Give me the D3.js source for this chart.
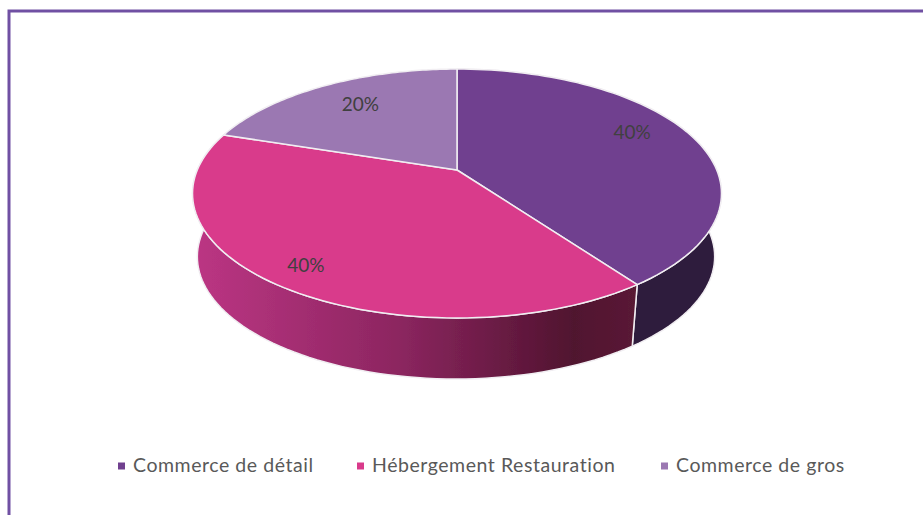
<!DOCTYPE html>
<html>
<head>
<meta charset="utf-8">
<script src="https://cdn.jsdelivr.net/npm/d3@7"></script>
<style>
html,body{margin:0;padding:0;background:#fff;}
svg{display:block;}
text{font-family:Lato,sans-serif;}
</style>
</head>
<body>
<div id="canvas"></div>
<script>
var categories = ['Commerce de détail','Hébergement Restauration','Commerce de gros'];
var values = [40,40,20];
var labels = ['40%','40%','20%'];
var topColors = ['#70408f','#d93a8b','#9b78b2'];

var W = 923, H = 515;

var svg = d3.select('#canvas').append('svg')
    .attr('width',W).attr('height',H);

//frame, only top and left are in the crop
svg.append('path')
    .attr('d','M923,11H9V515')
    .attr('fill','none')
    .attr('stroke','#7050a3')
    .attr('stroke-width',3);

//perspective of the disc: k makes the front bigger than the back
var k = 0.189;
function project(a,r,o){
    var u = Math.sin(a)*r, v = -Math.cos(a)*r, w = 1-k*v;
    return [o.cx + o.rx*u/w, o.cy + o.ry*v/w];
}
var topDisc = {cx:457,cy:170,rx:259.7,ry:120};
var botDisc = {cx:456,cy:233.5,rx:254,ry:118};

var arcs = d3.pie().sort(null)(values);
var line = d3.line();

function arcPoints(d,o){
    return d3.range(0,81).map(function(i){
        return project(d.startAngle+(d.endAngle-d.startAngle)*i/80,1,o);
    });
}

var defs = svg.append('defs');
var sideGrad = defs.append('linearGradient').attr('id','sidePink')
    .attr('gradientUnits','userSpaceOnUse')
    .attr('x1',197).attr('x2',635).attr('y1',0).attr('y2',0);
sideGrad.append('stop').attr('offset','0%').attr('stop-color','#bb3583');
sideGrad.append('stop').attr('offset','46%').attr('stop-color','#8c2660');
sideGrad.append('stop').attr('offset','86%').attr('stop-color','#50132f');
sideGrad.append('stop').attr('offset','100%').attr('stop-color','#5a1a36');
var blur = defs.append('filter').attr('id','soft')
    .attr('x','-5%').attr('y','-5%').attr('width','110%').attr('height','110%');
blur.append('feGaussianBlur').attr('stdDeviation',0.6);

var sideFill = ['#2f1b3c','url(#sidePink)',null];

var plot = svg.append('g').attr('filter','url(#soft)');

//sides first, the top sits over them
arcs.forEach(function(d,i){
    if(!sideFill[i]) return;
    var top = arcPoints(d,topDisc), bot = arcPoints(d,botDisc);
    plot.append('path')
        .attr('d',line(top.concat(bot.reverse()))+'Z')
        .attr('fill',sideFill[i])
        .attr('stroke','#f1eef2')
        .attr('stroke-width',1.5)
        .attr('stroke-linejoin','round');
});

//top slices
plot.selectAll('.slice')
    .data(arcs)
    .enter()
    .append('path')
    .attr('class','slice')
    .attr('d',function(d){
        return line([[topDisc.cx,topDisc.cy]].concat(arcPoints(d,topDisc)))+'Z';
    })
    .attr('fill',function(d,i){return topColors[i];})
    .attr('stroke','#f1eef2')
    .attr('stroke-width',1.5)
    .attr('stroke-linejoin','round');

//data labels
var labelR = [0.74,0.86,0.7];
var labelDy = [-12,-1,-5];
svg.selectAll('.lab')
    .data(arcs)
    .enter()
    .append('text')
    .attr('class','lab')
    .attr('text-anchor','middle')
    .attr('font-size',19)
    .attr('fill','#404040')
    .attr('x',function(d,i){return project((d.startAngle+d.endAngle)/2,labelR[i],topDisc)[0];})
    .attr('y',function(d,i){return project((d.startAngle+d.endAngle)/2,labelR[i],topDisc)[1]+labelDy[i]+7;})
    .text(function(d,i){return labels[i];});

//legend
var legendX = [118,357,661];
var leg = svg.selectAll('.leg')
    .data(categories)
    .enter()
    .append('g')
    .attr('class','leg')
    .attr('transform',function(d,i){return 'translate('+legendX[i]+',466)';});
leg.append('rect')
    .attr('y',-3.5)
    .attr('width',7).attr('height',7)
    .attr('fill',function(d,i){return topColors[i];});
leg.append('text')
    .attr('x',15)
    .attr('y',6)
    .attr('font-size',19.5)
    .attr('letter-spacing',0.55)
    .attr('fill','#595959')
    .text(function(d){return d;});
</script>
</body>
</html>
